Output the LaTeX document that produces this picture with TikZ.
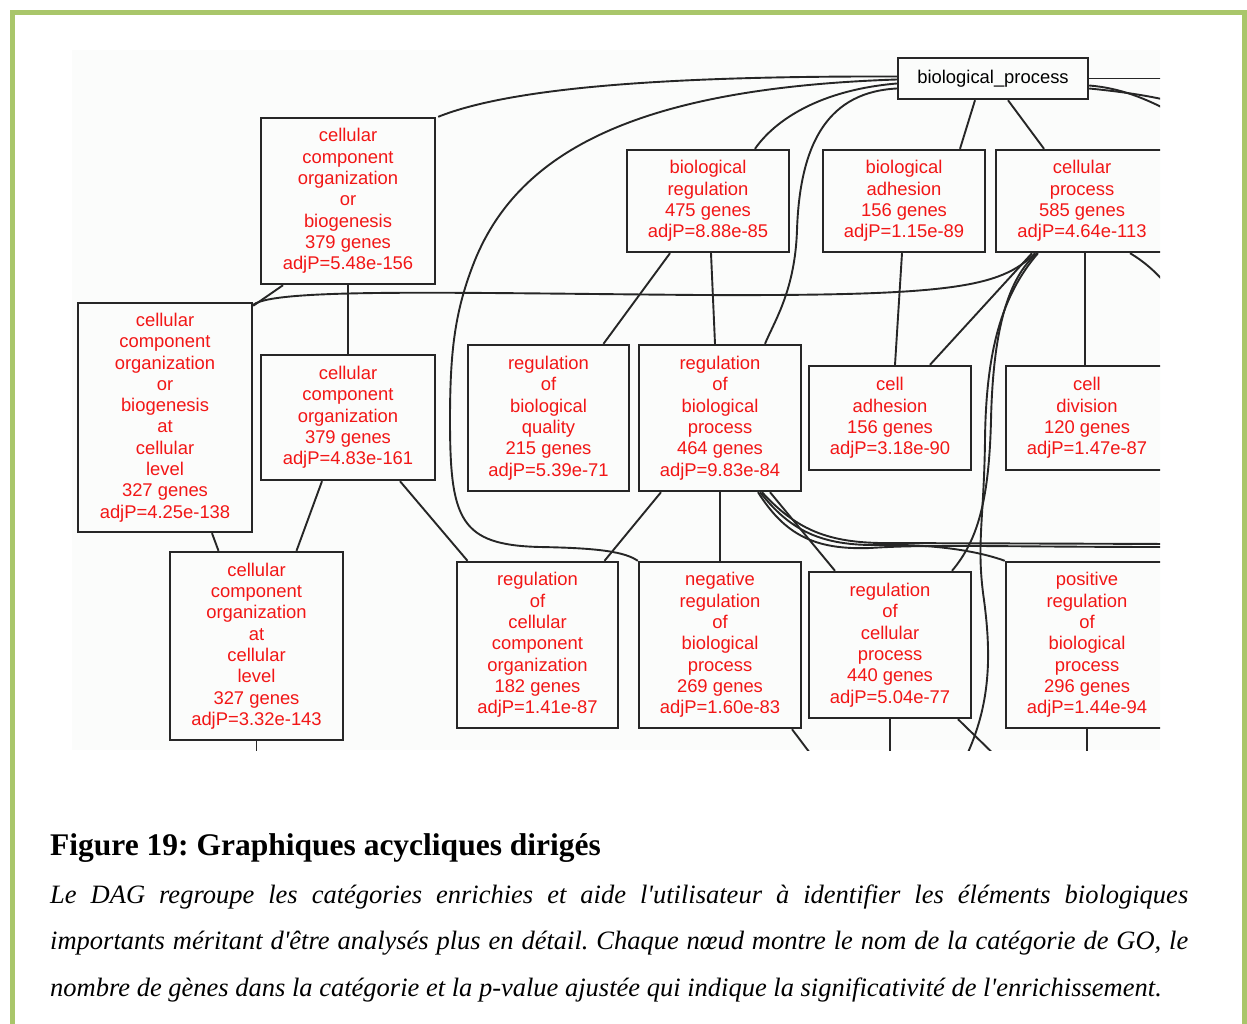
\documentclass[tikz,border=0pt]{standalone}
\usepackage{fontspec}
\setmainfont{Liberation Serif}
\newfontfamily\gofont{Liberation Sans}
\usetikzlibrary{backgrounds}
\definecolor{framegreen}{RGB}{169,198,106}
\definecolor{gored}{RGB}{242,22,22}
\definecolor{dagbg}{RGB}{251,252,251}
% straight apostrophe, as in the caption
\newcommand\sq{\XeTeXglyph\XeTeXcharglyph"27\relax}
\tikzset{
        % GO term boxes
        go_term/.style={rectangle, draw=black!85, line width=2.4pt, fill=dagbg, text=gored, align=center, inner sep=0pt, font=\gofont\fontsize{18.4}{21.3}\selectfont},
        % root term
        go_root/.style={go_term, text=black},
        % box size
        sz/.style 2 args={minimum width=#1pt, minimum height=#2pt},
        % edges between terms
        go_edge/.style={line width=1.9pt, black!85},
        % caption lines
        cap_line/.style={anchor=base west, inner sep=0pt, font=\frenchspacing\itshape\fontsize{26.5}{30}\selectfont}
}
\begin{document}
\begin{tikzpicture}[x=1pt, y=-1pt]
\useasboundingbox (0,0) rectangle (1247,1023);
\draw[framegreen, line width=5.5pt] (12.5,1040) -- (12.5,12.5) -- (1244.5,12.5) -- (1244.5,1040);

\begin{scope}
\clip (72,50) rectangle (1160,750);
% level 0
\node[go_root, sz={190}{41}] (bp) at (993,78.5) {biological\_process};
% level 1
\node[go_term, sz={174}{166}] (ccob) at (348,201) {cellular\\component\\organization\\or\\biogenesis\\379 genes\\adjP=5.48e-156};
\node[go_term, sz={162}{102}] (breg) at (708,201) {biological\\regulation\\475 genes\\adjP=8.88e-85};
\node[go_term, sz={162}{102}] (badh) at (904,201) {biological\\adhesion\\156 genes\\adjP=1.15e-89};
\node[go_term, sz={172}{102}] (cproc) at (1082,201) {cellular\\process\\585 genes\\adjP=4.64e-113};
% level 2
\node[go_term, sz={174}{229}] (ccobcl) at (165,417.5) {cellular\\component\\organization\\or\\biogenesis\\at\\cellular\\level\\327 genes\\adjP=4.25e-138};
\node[go_term, sz={174}{125}] (cco) at (348,417.5) {cellular\\component\\organization\\379 genes\\adjP=4.83e-161};
\node[go_term, sz={161}{146}] (rbq) at (548.5,418) {regulation\\of\\biological\\quality\\215 genes\\adjP=5.39e-71};
\node[go_term, sz={162}{146}] (rbp) at (720,418) {regulation\\of\\biological\\process\\464 genes\\adjP=9.83e-84};
\node[go_term, sz={162}{104}] (cadh) at (890,418) {cell\\adhesion\\156 genes\\adjP=3.18e-90};
\node[go_term, sz={162}{104}] (cdiv) at (1087,418) {cell\\division\\120 genes\\adjP=1.47e-87};
% level 3
\node[go_term, sz={173}{188}] (ccocl) at (256.5,646) {cellular\\component\\organization\\at\\cellular\\level\\327 genes\\adjP=3.32e-143};
\node[go_term, sz={161}{166}] (rcco) at (537.5,645) {regulation\\of\\cellular\\component\\organization\\182 genes\\adjP=1.41e-87};
\node[go_term, sz={162}{166}] (nrbp) at (720,645) {negative\\regulation\\of\\biological\\process\\269 genes\\adjP=1.60e-83};
\node[go_term, sz={162}{146}] (rcp) at (890,645) {regulation\\of\\cellular\\process\\440 genes\\adjP=5.04e-77};
\node[go_term, sz={162}{166}] (prbp) at (1087,645) {positive\\regulation\\of\\biological\\process\\296 genes\\adjP=1.44e-94};

% ends of edges leaving the crop
\coordinate (bp_out1) at (1175,78.5);
\coordinate (bp_out2) at (1175,114);
\coordinate (bp_out3) at (1175,102);
\coordinate (cproc_out1) at (1175,295);
\coordinate (cproc_out2) at (962,765);
\coordinate (rbp_out1) at (1175,547);
\coordinate (rbp_out2) at (1175,544);
\coordinate (ccocl_out) at (256.5,765);
\coordinate (nrbp_out) at (819,765);
\coordinate (rcp_out1) at (890,765);
\coordinate (rcp_out2) at (1005,765);
\coordinate (prbp_out) at (1087,765);
\end{scope}

\begin{scope}[on background layer]
\clip (72,50) rectangle (1160,750);
\fill[dagbg] (72,50) rectangle (1160,750);
% from biological_process
\draw[go_edge] ([yshift=2pt]bp.west) .. controls (700,76) and (520,84) .. ([xshift=2pt]ccob.north east);
\draw[go_edge] ([yshift=-1pt]bp.west) .. controls (640,88) and (520,150) .. (475,260) .. controls (455,310) and (450,350) .. (450,420) .. controls (450,520) and (460,545) .. (540,547) .. controls (600,548) and (625,552) .. (nrbp.north west);
\draw[go_edge] ([yshift=-5pt]bp.west) .. controls (820,90) and (775,120) .. ([xshift=47pt]breg.north);
\draw[go_edge] ([yshift=-10pt]bp.west) .. controls (830,92) and (800,140) .. (797,230) .. controls (795,290) and (775,320) .. ([xshift=45pt]rbp.north);
\draw[go_edge] ([xshift=-18pt]bp.south) -- ([xshift=56pt]badh.north);
\draw[go_edge] ([xshift=15pt]bp.south) -- ([xshift=-38pt]cproc.north);
\draw[go_edge] (bp.east) -- (bp_out1);
\draw[go_edge] ([yshift=-7pt]bp.east) .. controls (1120,88) and (1145,98) .. (bp_out2);
\draw[go_edge] ([yshift=-10pt]bp.east) .. controls (1125,92) and (1150,96) .. (bp_out3);
% level 1 -> level 2
\draw[go_edge] ([xshift=-65pt]ccob.south) -- ([yshift=-4pt]ccobcl.north east);
\draw[go_edge] (ccob.south) -- (cco.north);
\draw[go_edge] ([xshift=-47pt]cproc.south) .. controls (1000,288) and (950,296) .. (700,295) .. controls (450,293) and (275,288) .. ([yshift=-3pt]ccobcl.north east);
\draw[go_edge] ([xshift=-38pt]breg.south) -- ([xshift=55pt]rbq.north);
\draw[go_edge] ([xshift=3pt]breg.south) -- ([xshift=-5pt]rbp.north);
\draw[go_edge] ([xshift=-2pt]badh.south) -- ([xshift=5pt]cadh.north);
\draw[go_edge] ([xshift=-50pt]cproc.south) -- ([xshift=40pt]cadh.north);
\draw[go_edge] ([xshift=3pt]cproc.south) -- ([xshift=-2pt]cdiv.north);
\draw[go_edge] ([xshift=-45pt]cproc.south) .. controls (1008,278) and (993,330) .. (991,420) .. controls (989,500) and (978,540) .. ([xshift=62pt]rcp.north);
\draw[go_edge] ([xshift=-44pt]cproc.south) .. controls (1002,295) and (986,350) .. (985,440) .. controls (984,520) and (976,545) .. (984,600) .. controls (992,660) and (990,710) .. (cproc_out2);
\draw[go_edge] ([xshift=48pt]cproc.south) .. controls (1145,262) and (1160,275) .. (cproc_out1);
% level 2 -> level 3
\draw[go_edge] ([xshift=-59pt]rbp.south) -- ([xshift=67pt]rcco.north);
\draw[go_edge] (rbp.south) -- (nrbp.north);
\draw[go_edge] ([xshift=50pt]rbp.south) -- ([xshift=-55pt]rcp.north);
\draw[go_edge] ([xshift=40pt]rbp.south) .. controls (790,530) and (820,546) .. (880,545) .. controls (930,544) and (975,550) .. (prbp.north west);
\draw[go_edge] ([xshift=38pt]rbp.south) .. controls (785,535) and (815,550) .. (870,548) .. controls (930,544) and (1000,547) .. (rbp_out1);
\draw[go_edge] ([xshift=42pt]rbp.south) .. controls (795,528) and (825,542) .. (880,543) -- (rbp_out2);
\draw[go_edge] ([xshift=-26pt]cco.south) -- ([xshift=40pt]ccocl.north);
\draw[go_edge] ([xshift=52pt]cco.south) -- ([xshift=-70pt]rcco.north);
\draw[go_edge] ([xshift=47pt]ccobcl.south) -- ([xshift=-38pt]ccocl.north);
% leaving the crop
\draw[go_edge] (ccocl.south) -- (ccocl_out);
\draw[go_edge] ([xshift=72pt]nrbp.south) -- (nrbp_out);
\draw[go_edge] (rcp.south) -- (rcp_out1);
\draw[go_edge] ([xshift=68pt]rcp.south) -- (rcp_out2);
\draw[go_edge] (prbp.south) -- (prbp_out);
\end{scope}

% caption
\node[anchor=base west, inner sep=0pt, font=\frenchspacing\bfseries\fontsize{31.5}{36}\selectfont] (figtitle) at (50,855) {Figure 19: Graphiques acycliques dirigés};
\node[cap_line] (figline1) at (50,903) {\hbox to 1138pt{Le DAG regroupe les catégories enrichies et aide l\sq utilisateur à identifier les éléments biologiques}};
\node[cap_line] (figline2) at (50,949) {\hbox to 1138pt{importants méritant d\sq être analysés plus en détail. Chaque nœud montre le nom de la catégorie de GO, le}};
\node[cap_line] (figline3) at (50,996) {nombre de gènes dans la catégorie et la p-value ajustée qui indique la significativité de l\sq enrichissement.};
\end{tikzpicture}
\end{document}
